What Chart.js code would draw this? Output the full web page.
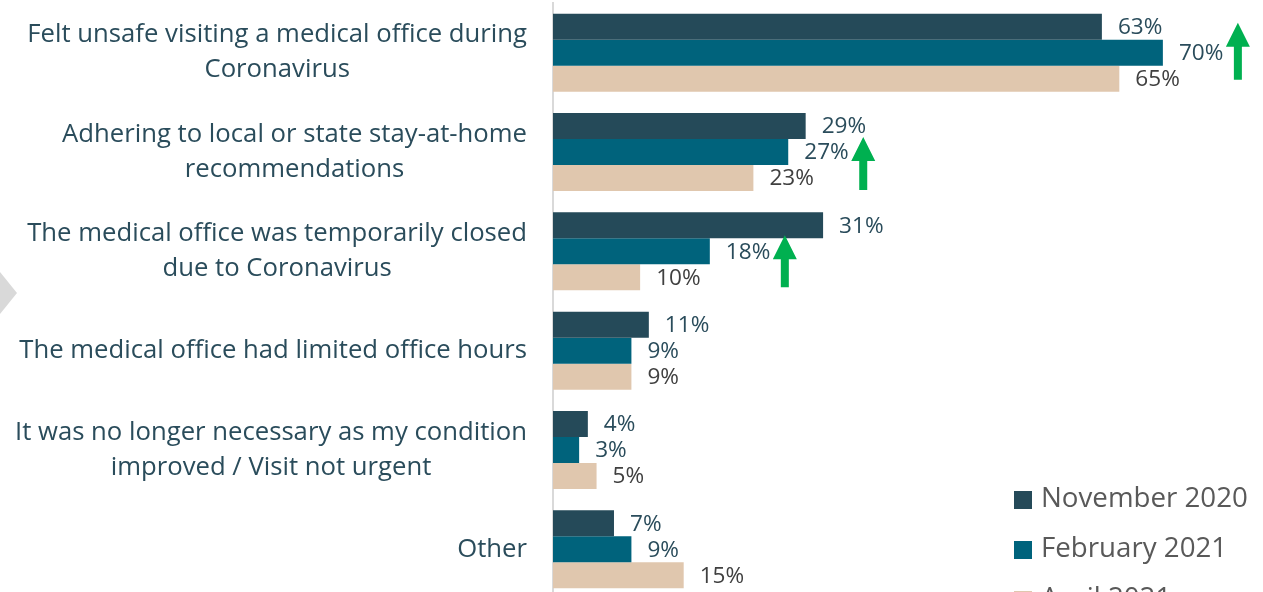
<!DOCTYPE html>
<html>
<head>
<meta charset="utf-8">
<script src="https://cdn.jsdelivr.net/npm/chart.js@4.4.0/dist/chart.umd.min.js"></script>
<style>
  html, body { margin: 0; padding: 0; background: #fff; overflow: hidden; }
  #wrap { position: relative; width: 1263px; height: 600px; }
  #marker { position: absolute; left: 0; top: 272px; width: 0; height: 0;
    border-top: 21px solid transparent; border-bottom: 21px solid transparent; border-left: 17px solid #d9d9d9; }
</style>
</head>
<body>
<div id="wrap"><div id="marker"></div><canvas id="chart"></canvas></div>
<script>
// Reasons for postponing a medical visit
const categories = [
    ['Felt unsafe visiting a medical office during', 'Coronavirus'],
    ['Adhering to local or state stay-at-home', 'recommendations'],
    ['The medical office was temporarily closed', 'due to Coronavirus'],
    ['The medical office had limited office hours'],
    ['It was no longer necessary as my condition', 'improved / Visit not urgent'],
    ['Other'],
];
const waves = ['November 2020', 'February 2021', 'April 2021'];
const nov2020 = [63, 29, 31, 11, 4, 7];
const feb2021 = [70, 27, 18, 9, 3, 9];
const apr2021 = [65, 23, 10, 9, 5, 15];
// significant increases (green arrows), category index on the February series
const significantUp = [0, 1, 2];

const colors = ['#254a59', '#00637c', '#e0c7ae'];
const labelColor = '#2a4c5b';

// Category labels: each block centred on itself, block right-aligned
const categoryLabels = {
    id: 'categoryLabels',
    afterDraw(chart) {
        const ctx = chart.ctx;
        const y = chart.scales.y;
        ctx.save();
        ctx.font = '25.7px "Open Sans"';
        ctx.fillStyle = labelColor;
        ctx.textAlign = 'center';
        ctx.textBaseline = 'middle';
        categories.forEach((lines, i) => {
            const cy = y.getPixelForTick(i);
            const w = Math.max(...lines.map(l => ctx.measureText(l).width));
            const cx = chart.chartArea.left - 26 - w / 2;
            lines.forEach((l, k) => {
                ctx.fillText(l, cx, cy + (k - (lines.length - 1) / 2) * 35);
            });
        });
        ctx.restore();
    }
};

// Value labels at bar ends
const valueLabels = {
    id: 'valueLabels',
    afterDatasetsDraw(chart) {
        const ctx = chart.ctx;
        ctx.save();
        ctx.font = '22.6px "Open Sans"';
        ctx.textAlign = 'left';
        ctx.textBaseline = 'middle';
        chart.data.datasets.forEach((ds, di) => {
            const meta = chart.getDatasetMeta(di);
            ctx.fillStyle = di === 2 ? '#404040' : labelColor;
            meta.data.forEach((bar, i) => {
                ctx.fillText(ds.data[i] + '%', bar.x + 16, bar.y + 1);
            });
        });
        ctx.restore();
    }
};

// Green arrows
const arrows = {
    id: 'arrows',
    afterDraw(chart) {
        const ctx = chart.ctx;
        const tipOffset = [-30, -15, -16];
        const length = [57, 53, 52];
        ctx.save();
        ctx.fillStyle = '#00b050';
        significantUp.forEach((ci, k) => {
            const bar = chart.getDatasetMeta(1).data[ci];
            const cx = bar.x + 75;
            const top = chart.scales.y.getPixelForTick(ci) + tipOffset[k];
            const bottom = top + length[k];
            ctx.beginPath();
            ctx.moveTo(cx, top);
            ctx.lineTo(cx + 12, top + 24);
            ctx.lineTo(cx + 4, top + 24);
            ctx.lineTo(cx + 4, bottom);
            ctx.lineTo(cx - 4, bottom);
            ctx.lineTo(cx - 4, top + 24);
            ctx.lineTo(cx - 12, top + 24);
            ctx.closePath();
            ctx.fill();
        });
        ctx.restore();
    }
};

// Legend, bottom right
const sideLegend = {
    id: 'sideLegend',
    afterDraw(chart) {
        const ctx = chart.ctx;
        ctx.save();
        ctx.font = '27.7px "Open Sans"';
        ctx.textAlign = 'left';
        ctx.textBaseline = 'middle';
        chart.data.datasets.forEach((ds, i) => {
            const y = 500 + i * 50;
            ctx.fillStyle = ds.backgroundColor;
            ctx.fillRect(1014, y - 9, 18, 18);
            ctx.fillStyle = '#595959';
            ctx.fillText(ds.label, 1041, y - 1);
        });
        ctx.restore();
    }
};

new Chart(document.getElementById('chart'), {
    type: 'bar',
    data: {
        labels: categories,
        datasets: [
            { label: waves[0], data: nov2020, backgroundColor: colors[0] },
            { label: waves[1], data: feb2021, backgroundColor: colors[1] },
            { label: waves[2], data: apr2021, backgroundColor: colors[2] },
        ],
    },
    options: {
        indexAxis: 'y',
        responsive: true,
        maintainAspectRatio: false,
        animation: false,
        layout: { padding: { left: 553, right: 13, top: 3, bottom: 1 } },
        datasets: { bar: { categoryPercentage: 0.785, barPercentage: 1 } },
        plugins: { legend: { display: false }, tooltip: { enabled: false } },
        scales: {
            x: { display: false, min: 0, max: 80 },
            y: {
                ticks: { display: false },
                grid: { display: false, drawTicks: false },
                border: { display: true, color: '#d9d9d9', width: 2 },
            },
        },
    },
    plugins: [categoryLabels, valueLabels, arrows, sideLegend],
});
</script>
</body>
</html>
